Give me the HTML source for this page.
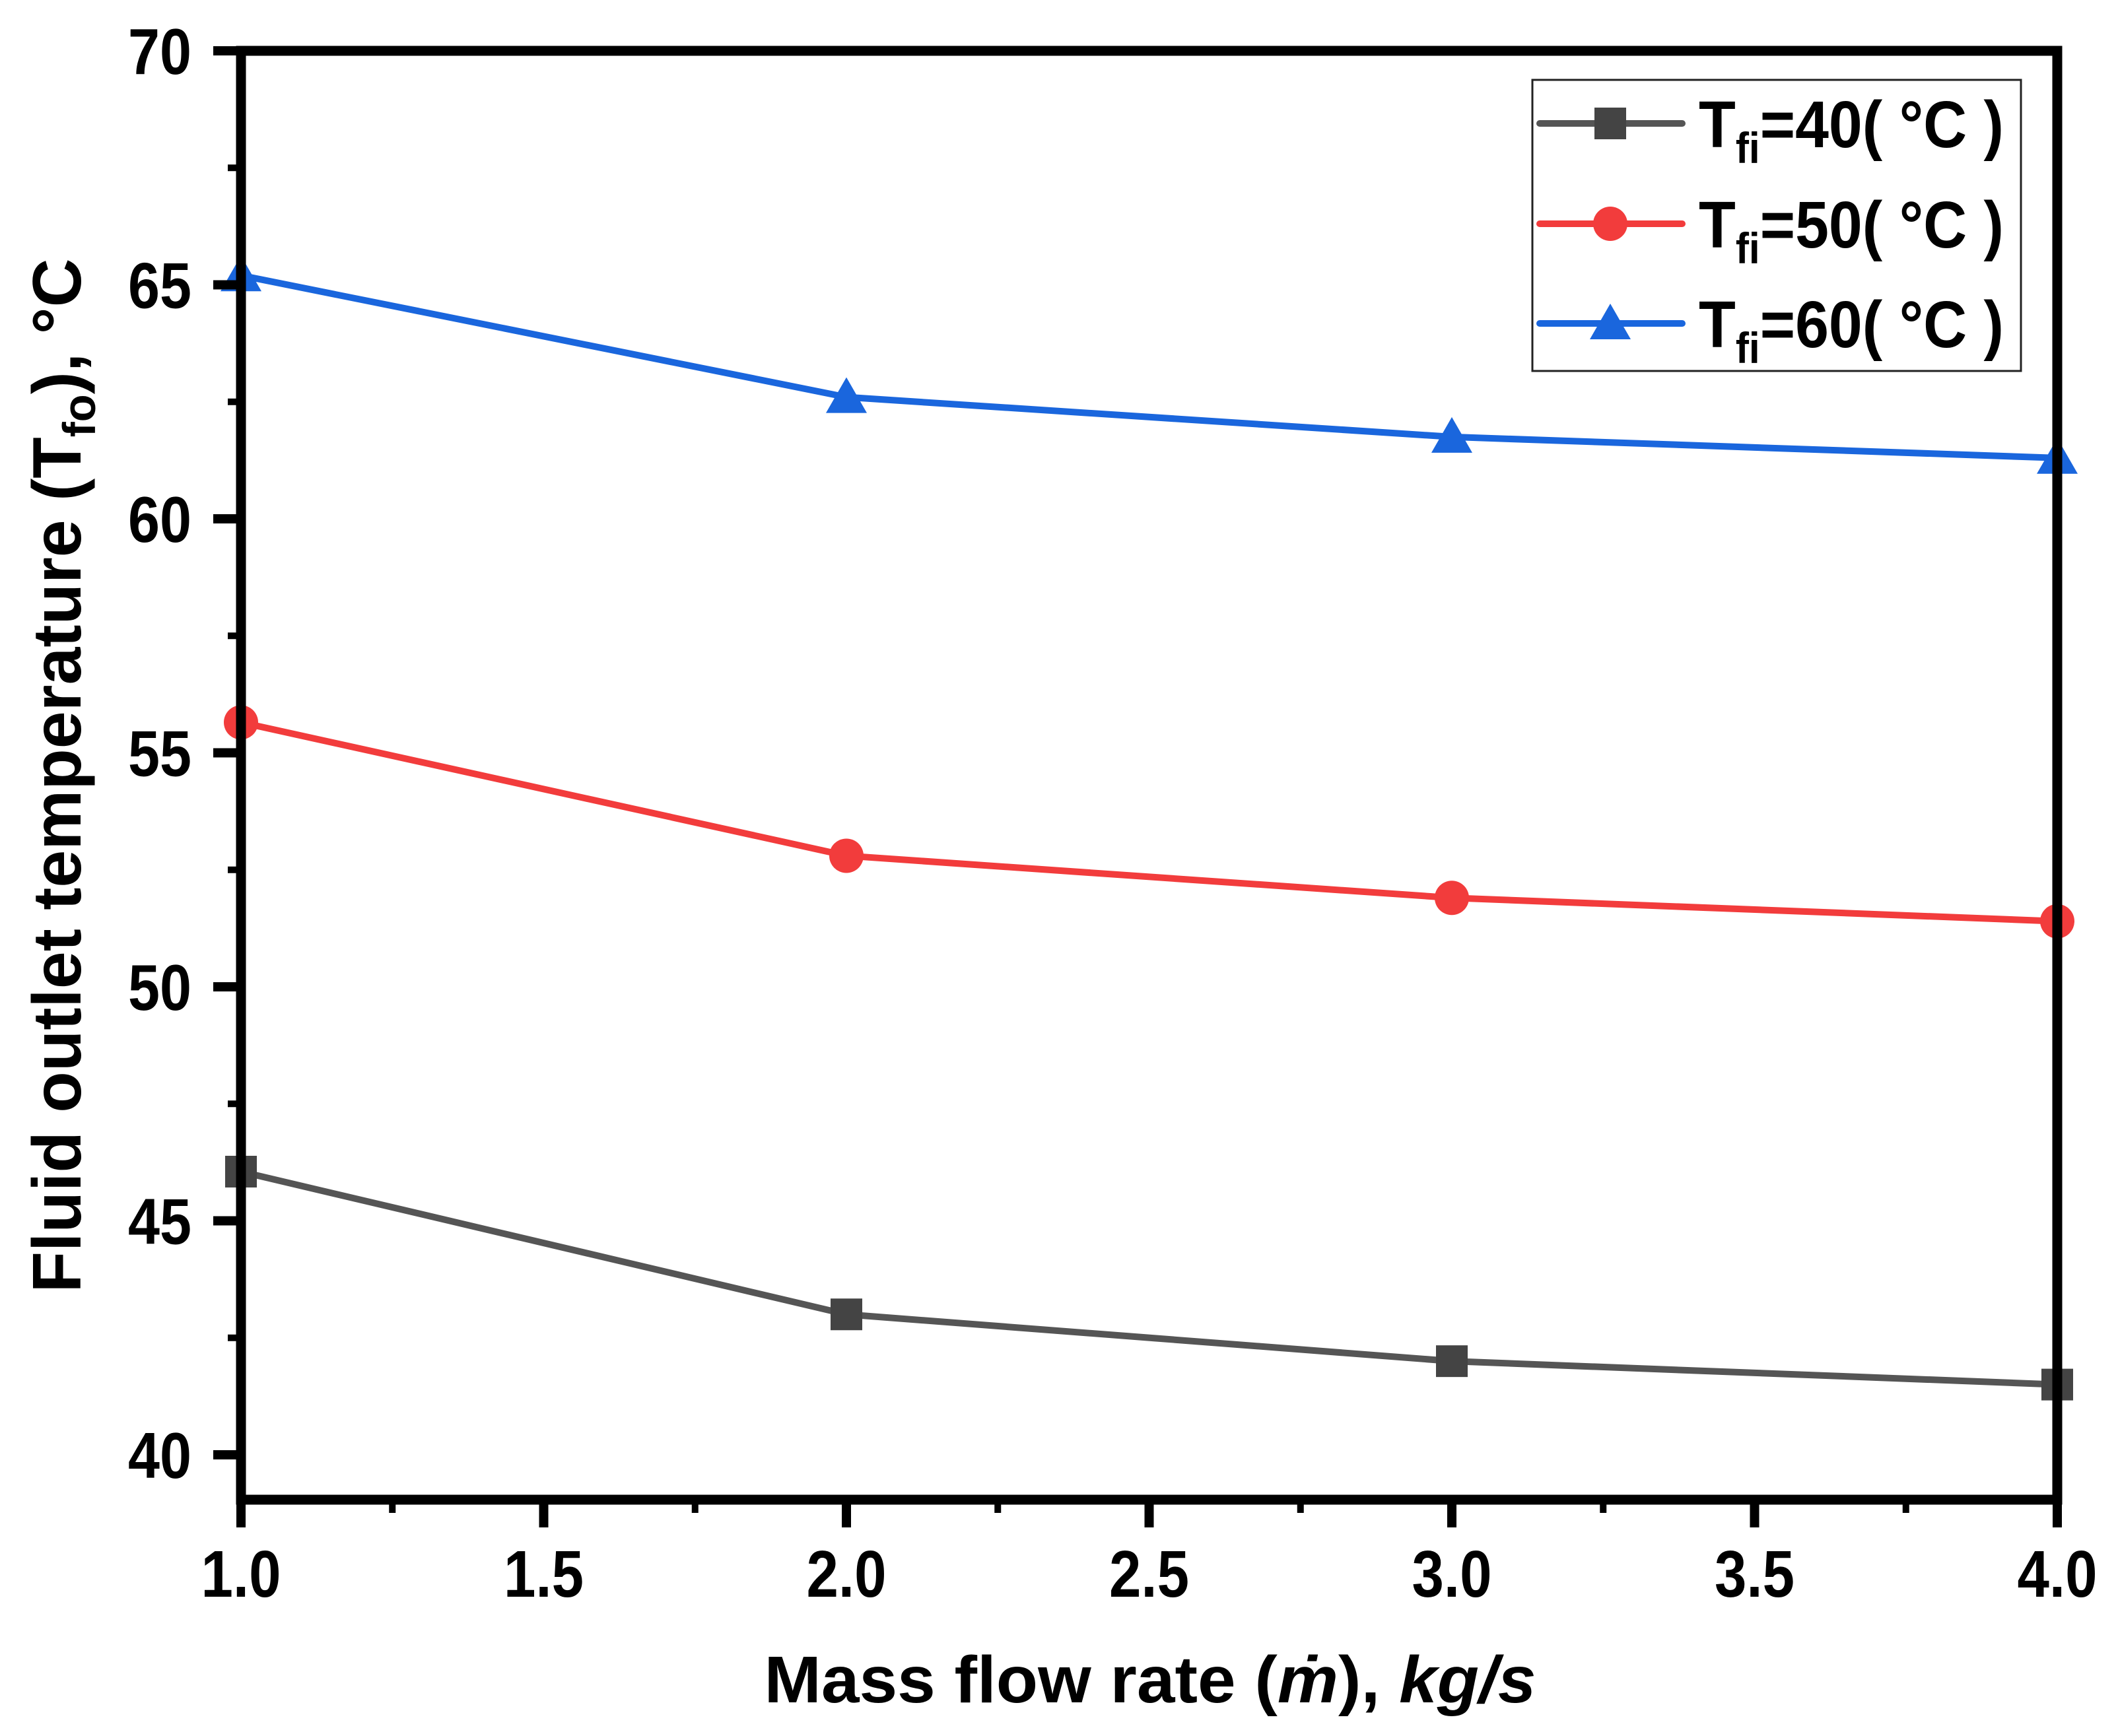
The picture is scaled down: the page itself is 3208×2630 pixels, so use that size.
<!DOCTYPE html>
<html><head><meta charset="utf-8"><style>html,body{margin:0;padding:0;background:#fff}svg{display:block}</style></head>
<body>
<svg id="chart" width="3208" height="2630" viewBox="0 0 3208 2630" xmlns="http://www.w3.org/2000/svg" font-family="Liberation Sans, Arial, sans-serif" font-weight="bold">
<rect width="3208" height="2630" fill="#fff"/>
<g id="series"></g>
<g id="axes"></g>
<text x="1742" y="2579" font-size="100" text-anchor="middle" textLength="1169" lengthAdjust="spacingAndGlyphs">Mass flow rate (<tspan font-style="italic">ṁ</tspan>), <tspan font-style="italic">kg/s</tspan></text>
<text transform="translate(122,1175) rotate(-90)" font-size="104" text-anchor="middle" textLength="1567" lengthAdjust="spacingAndGlyphs">Fluid outlet temperature (T<tspan font-size="70" dy="22">fo</tspan><tspan dy="-22">), °C</tspan></text>
<g>
<rect x="2321" y="121" width="740" height="441" fill="#fff" stroke="#222" stroke-width="3"/>
<g id="legend-items"></g>
</g>
</svg>
<script>
const xValues = [1.0, 2.0, 3.0, 4.0];
const series40 = [46.05, 43.0, 42.0, 41.5];
const series50 = [55.65, 52.8, 51.9, 51.4];
const series60 = [65.2, 62.6, 61.75, 61.3];
const xTicks = [1.0, 1.5, 2.0, 2.5, 3.0, 3.5, 4.0];
const yTicks = [40, 45, 50, 55, 60, 65, 70];
const seriesLabels = ['40', '50', '60'];

const NS = 'http://www.w3.org/2000/svg';
const X0 = 365, X1 = 3116, Y0 = 2272, Y1 = 77;
const XMIN = 1, XMAX = 4, YMIN = 39.04, YMAX = 70;
function xs(v){ return X0 + (v - XMIN) / (XMAX - XMIN) * (X1 - X0); }
function ys(v){ return Y0 - (v - YMIN) / (YMAX - YMIN) * (Y0 - Y1); }
function mk(tag, attrs, parent){ const e = document.createElementNS(NS, tag); for (const k in attrs) e.setAttribute(k, attrs[k]); parent.appendChild(e); return e; }

const sg = document.getElementById('series');
const styles = [
  {data: series40, color: '#555555', mcolor: '#444444', shape: 'square', name: 'tfi-40'},
  {data: series50, color: '#f23c3c', mcolor: '#f23c3c', shape: 'circle', name: 'tfi-50'},
  {data: series60, color: '#1a66dd', mcolor: '#1a66dd', shape: 'triangle', name: 'tfi-60'}
];
function marker(shape, cx, cy, color, parent){
  let m;
  if (shape === 'square') m = mk('rect', {x: cx-24, y: cy-24, width: 48, height: 48, fill: color}, parent);
  else if (shape === 'circle') m = mk('circle', {cx: cx, cy: cy, r: 26, fill: color}, parent);
  else m = mk('polygon', {points: `${cx},${cy-30} ${cx+31},${cy+24} ${cx-31},${cy+24}`, fill: color}, parent);
  return m;
}
styles.forEach(s => {
  const pts = s.data.map((v, i) => xs(xValues[i]) + ',' + ys(v)).join(' ');
  const pl = mk('polyline', {points: pts, fill: 'none', stroke: s.color, 'stroke-width': 10, 'stroke-linejoin': 'round'}, sg);
  
  
  s.data.forEach((v, i) => {
    const m = marker(s.shape, xs(xValues[i]), ys(v), s.mcolor, sg);
    
    
  });
});

const ag = document.getElementById('axes');
const frame = mk('rect', {x: X0, y: Y1, width: X1 - X0, height: Y0 - Y1, fill: 'none', stroke: '#000', 'stroke-width': 15}, ag);


xTicks.forEach((t, i) => {
  const x = xs(t);
  const tk = mk('line', {x1: x, y1: Y0, x2: x, y2: Y0 + 42, stroke: '#000', 'stroke-width': 14}, ag);
  
  
  if (i < xTicks.length - 1) {
    const xm = xs(t + 0.25);
    const mt = mk('line', {x1: xm, y1: Y0, x2: xm, y2: Y0 + 20, stroke: '#000', 'stroke-width': 10}, ag);
    
    
  }
  const lb = mk('text', {x: x, y: 2419, 'font-size': 100, 'text-anchor': 'middle', textLength: 121, lengthAdjust: 'spacingAndGlyphs'}, ag);
  lb.textContent = t.toFixed(1);
  
  
});
yTicks.forEach((t, i) => {
  const y = ys(t);
  const tk = mk('line', {x1: X0, y1: y, x2: X0 - 42, y2: y, stroke: '#000', 'stroke-width': 14}, ag);
  
  
  if (i < yTicks.length - 1) {
    const ym = ys(t + 2.5);
    const mt = mk('line', {x1: X0, y1: ym, x2: X0 - 20, y2: ym, stroke: '#000', 'stroke-width': 10}, ag);
    
    
  }
  const lb = mk('text', {x: 290, y: y + 35, 'font-size': 98, 'text-anchor': 'end', textLength: 96, lengthAdjust: 'spacingAndGlyphs'}, ag);
  lb.textContent = String(t);
  
  
});

const lg = document.getElementById('legend-items');
const rowY = [187, 339, 490];
styles.forEach((s, i) => {
  const g = mk('g', {}, lg);
  
  
  mk('line', {x1: 2332, y1: rowY[i], x2: 2548, y2: rowY[i], stroke: s.color, 'stroke-width': 10, 'stroke-linecap': 'round'}, g);
  marker(s.shape, 2439, rowY[i], s.mcolor, g);
  const t = mk('text', {x: 2573, y: rowY[i] + 36, 'font-size': 100, textLength: 462, lengthAdjust: 'spacingAndGlyphs'}, g);
  t.innerHTML = 'T<tspan font-size="66" dy="24">fi</tspan><tspan dy="-24">=' + seriesLabels[i] + '( °C )</tspan>';
});
</script>
</body></html>
